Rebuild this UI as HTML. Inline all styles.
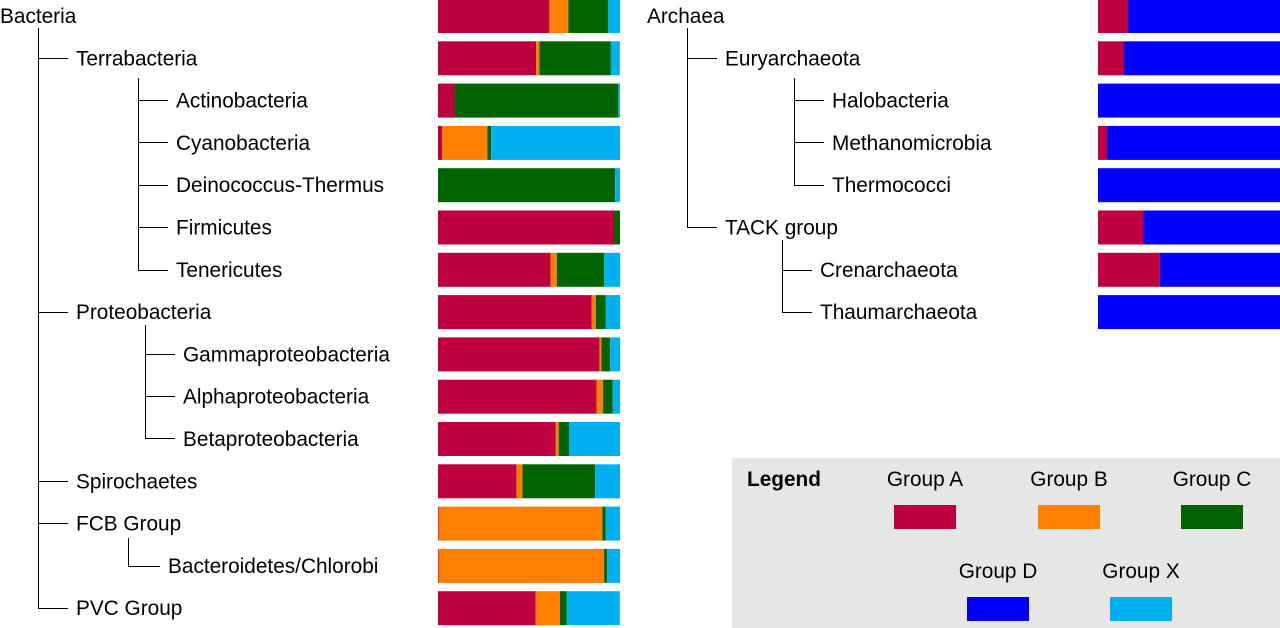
<!DOCTYPE html>
<html><head><meta charset="utf-8"><style>
html,body{margin:0;padding:0;background:#fff;width:1280px;height:628px;overflow:hidden}
svg text{font-family:"Liberation Sans",Arial,sans-serif;font-size:20.8px;fill:#000}
</style></head><body>
<svg id="chart" width="1280" height="628" xmlns="http://www.w3.org/2000/svg">
<g id="tree" stroke="#000" stroke-width="1" fill="none">
<path d="M38.5 28V608.5H68M38.5 58.5H68M38.5 312.5H68M38.5 481.5H68M38.5 523.5H68"/>
<path d="M138.5 78V270.5H168M138.5 100.5H168M138.5 142.5H168M138.5 185.5H168M138.5 227.5H168"/>
<path d="M145.5 325V438.5H175M145.5 354.5H175M145.5 396.5H175"/>
<path d="M128.5 538V566.5H160"/>
<path d="M687.5 28V227.5H717M687.5 58.5H717"/>
<path d="M794.5 78V185.5H824M794.5 100.5H824M794.5 142.5H824"/>
<path d="M782.5 240V312.5H812M782.5 270.5H812"/>
</g>
<g id="labels"></g>
<g id="bars"></g>
<g id="legend">
<rect x="732" y="458" width="548" height="170" fill="#e6e6e6"/>
<text x="747" y="486" style="font-weight:bold">Legend</text>
</g>
</svg>
<script>
const bacteriaLabels=["Bacteria","Terrabacteria","Actinobacteria","Cyanobacteria","Deinococcus-Thermus","Firmicutes","Tenericutes","Proteobacteria","Gammaproteobacteria","Alphaproteobacteria","Betaproteobacteria","Spirochaetes","FCB Group","Bacteroidetes/Chlorobi","PVC Group"];
const bacteriaLabelX=[0,76,176,176,176,176,176,76,183,183,183,76,76,168,76];
const groupA=[61.2,53.9,9.1,2.2,0,96.7,61.8,84.5,88.7,87.2,64.7,43.1,0.4,0.4,53.7];
const groupB=[10.4,1.8,0,25,0,0,3.5,2.2,1.1,3.5,1.6,3.3,89.9,90.9,13.3];
const groupC=[21.8,39.3,90,2,97.3,3.3,26,5.5,4.8,5.3,5.7,39.9,1.8,1.6,3.8];
const groupX=[6.6,4.9,0.9,70.8,2.7,0,8.8,7.9,5.5,4,28,13.7,7.9,7.1,29.1];
const archaeaLabels=["Archaea","Euryarchaeota","Halobacteria","Methanomicrobia","Thermococci","TACK group","Crenarchaeota","Thaumarchaeota"];
const archaeaLabelX=[647,725,832,832,832,725,820,820];
const archaeaA=[16.5,14.3,0,5,0,25,34,0];
const archaeaD=[83.5,85.7,100,95,100,75,66,100];
const legendNames=["Group A","Group B","Group C","Group D","Group X"];
const colors={A:"#bf003f",B:"#ff8000",C:"#006400",D:"#0000ff",X:"#00b0f0"};
const NS="http://www.w3.org/2000/svg";
const rowY=i=>16+42.3*i;
const barW=182;
const xs=(x0,p)=>x0+p/100*barW;
const labels=document.getElementById('labels'),bars=document.getElementById('bars'),legend=document.getElementById('legend');
function txt(parent,x,y,s){const t=document.createElementNS(NS,'text');t.setAttribute('x',x);t.setAttribute('y',y);t.textContent=s;parent.appendChild(t);return t;}
function rect(parent,x,y,w,h,fill){const r=document.createElementNS(NS,'rect');r.setAttribute('x',x);r.setAttribute('y',y);r.setAttribute('width',Math.max(0,w));r.setAttribute('height',h);r.setAttribute('fill',fill);parent.appendChild(r);return r;}
function stack(x0,i,vals,keys,name){let acc=0;const y=rowY(i)-17;
 vals.forEach((v,k)=>{const r=rect(bars,xs(x0,acc),y<0?0:y,xs(x0,acc+v)-xs(x0,acc),y<0?34+y:34,colors[keys[k]]);
 
 
 acc+=v;});}
bacteriaLabels.forEach((s,i)=>{const t=txt(labels,bacteriaLabelX[i],rowY(i)+7,s);
 
 
 stack(438,i,[groupA[i],groupB[i],groupC[i],groupX[i]],['A','B','C','X'],s.toLowerCase().replace(/[^a-z]+/g,'-'));});
archaeaLabels.forEach((s,i)=>{const t=txt(labels,archaeaLabelX[i],rowY(i)+7,s);
 
 
 stack(1098,i,[archaeaA[i],archaeaD[i]],['A','D'],s.toLowerCase().replace(/[^a-z]+/g,'-'));});
const legCx=[925,1069,1212,998,1141],legY=[486,486,486,578,578],legKeys=['A','B','C','D','X'];
legendNames.forEach((s,i)=>{const t=txt(legend,legCx[i],legY[i],s);t.setAttribute('text-anchor','middle');
 
 
 const r=rect(legend,legCx[i]-31,legY[i]+19,62,24,colors[legKeys[i]]);
 
 });
</script>
</body></html>
